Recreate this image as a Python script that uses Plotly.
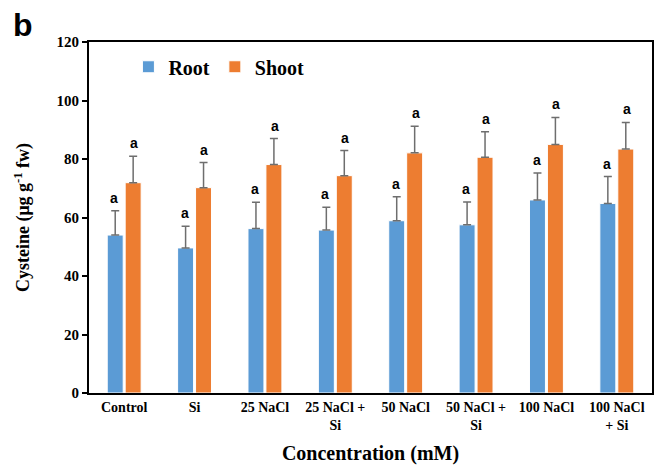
import plotly.graph_objects as go

categories = ["Control", "Si", "25 NaCl", "25 NaCl +<br>Si", "50 NaCl",
              "50 NaCl +<br>Si", "100 NaCl", "100 NaCl<br>+ Si"]
root = [54.0, 49.6, 56.2, 55.7, 58.9, 57.5, 66.0, 64.8]
root_err = [8.3, 7.4, 9.0, 7.8, 8.2, 7.8, 9.2, 9.2]
shoot = [71.9, 70.2, 78.1, 74.3, 82.1, 80.6, 85.0, 83.4]
shoot_err = [9.0, 8.6, 8.9, 8.6, 9.1, 8.7, 9.2, 9.1]
root_letters = ["a"] * 8
shoot_letters = ["a"] * 8

serif = "Liberation Serif, Times New Roman, serif"
sans = "Liberation Sans, Arial, sans-serif"
blue = "#5B9BD5"
orange = "#ED7D31"
errc = "#6E6E6E"

fig = go.Figure()
fig.add_trace(go.Bar(
    name="<b>Root</b>", x=categories, y=root,
    marker=dict(color=blue, line=dict(color="white", width=1)),
    error_y=dict(type="data", array=root_err, arrayminus=[0] * len(root),
                 symmetric=False, color=errc, thickness=1.5, width=4),
))
fig.add_trace(go.Bar(
    name="<b>Shoot</b>", x=categories, y=shoot,
    marker=dict(color=orange, line=dict(color="white", width=1)),
    error_y=dict(type="data", array=shoot_err, arrayminus=[0] * len(shoot),
                 symmetric=False, color=errc, thickness=1.5, width=4),
))

# significance letters above error bars
ncat = len(categories)
for i, cat in enumerate(categories):
    for off, vals, errs, letters in ((-0.14, root, root_err, root_letters),
                                     (0.14, shoot, shoot_err, shoot_letters)):
        fig.add_annotation(
            x=i + off, y=vals[i] + errs[i], xref="x", yref="y",
            text="<b>%s</b>" % letters[i], showarrow=False,
            yanchor="bottom", yshift=3,
            font=dict(family=sans, size=14, color="black"),
        )

fig.add_annotation(
    x=-0.138, y=1.105, xref="paper", yref="paper", xanchor="left", yanchor="top",
    text="<b>b</b>", showarrow=False,
    font=dict(family=sans, size=32, color="black"),
)
fig.update_layout(
    width=659, height=467,
    margin=dict(l=89, r=5, t=42, b=74),
    paper_bgcolor="white", plot_bgcolor="white",
    barmode="group", bargap=0.49, bargroupgap=0.11,
    showlegend=True,
    legend=dict(orientation="h", x=0.07, y=0.985, xanchor="left", yanchor="top",
                font=dict(family=serif, size=20, color="black"),
                itemwidth=30, tracegroupgap=0, bgcolor="rgba(0,0,0,0)"),
    font=dict(family=serif, color="black"),
)
fig.update_xaxes(
    type="category", range=[-0.5, ncat - 0.5],
    showline=True, linecolor="black", linewidth=2, mirror=True,
    ticks="", showgrid=False,
    tickfont=dict(family=serif, size=14, color="black"),
    tickprefix="<b>", ticksuffix="</b>",
    title=dict(text="<b>Concentration (mM)</b>",
               font=dict(family=serif, size=20, color="black"), standoff=14),
)
fig.update_yaxes(
    range=[0, 120], dtick=20,
    showline=True, linecolor="black", linewidth=2, mirror=True,
    ticks="outside", ticklen=5, tickwidth=1.5, tickcolor="black",
    showgrid=False, zeroline=False,
    tickfont=dict(family=serif, size=15, color="black"),
    tickprefix="<b>", ticksuffix="</b>",
    title=dict(text="<b>Cysteine (μg g<sup>-1</sup> fw)</b>",
               font=dict(family=serif, size=18, color="black"), standoff=22),
)
fig.write_html("out.html")
